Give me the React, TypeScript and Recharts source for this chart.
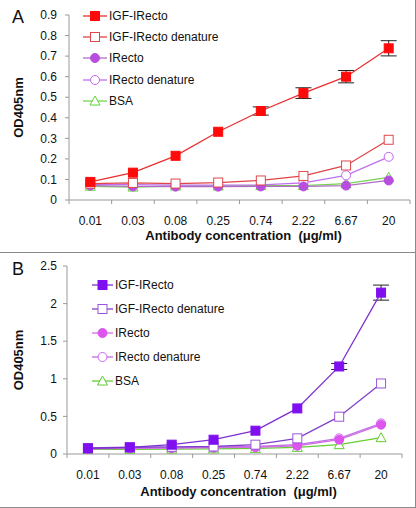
import React from "react";
import { LineChart, Line, XAxis, YAxis, ErrorBar, Legend } from "recharts";

const FONT = "'Liberation Sans', Arial, sans-serif";
const AXIS = "#9a9a9a";

const concentrations = ["0.01", "0.03", "0.08", "0.25", "0.74", "2.22", "6.67", "20"];
const seriesNames = ["IGF-IRecto", "IGF-IRecto denature", "IRecto", "IRecto denature", "BSA"];

// panel A
const aTicks = [0, 0.1, 0.2, 0.3, 0.4, 0.5, 0.6, 0.7, 0.8, 0.9];
const aIgf = [0.088, 0.133, 0.215, 0.332, 0.433, 0.52, 0.6, 0.738];
// null = error bar too small to show behind the marker
const aIgfErr = [null, null, null, null, 0.02, 0.026, 0.03, 0.037];
const aIgfDen = [0.08, 0.083, 0.08, 0.085, 0.095, 0.117, 0.168, 0.293];
const aIr = [0.07, 0.066, 0.065, 0.065, 0.066, 0.066, 0.07, 0.095];
const aIrDen = [0.076, 0.075, 0.072, 0.072, 0.074, 0.083, 0.12, 0.21];
const aBsa = [0.067, 0.063, 0.068, 0.068, 0.07, 0.07, 0.08, 0.11];

// panel B
const bTicks = [0, 0.5, 1, 1.5, 2, 2.5];
const bIgf = [0.075, 0.088, 0.124, 0.19, 0.31, 0.606, 1.164, 2.146];
const bIgfErr = [null, null, null, null, null, null, 0.04, 0.1];
const bIgfDen = [0.08, 0.09, 0.095, 0.1, 0.124, 0.208, 0.496, 0.938];
const bIr = [0.07, 0.075, 0.078, 0.085, 0.09, 0.11, 0.19, 0.39];
const bIrDen = [0.072, 0.078, 0.082, 0.09, 0.1, 0.124, 0.208, 0.407];
const bBsa = [0.062, 0.063, 0.065, 0.068, 0.075, 0.088, 0.124, 0.217];

type Shape = "square" | "circle" | "triangle";
interface SeriesStyle {
  key: string;
  shape: Shape;
  filled: boolean;
  marker: string;
  line: string;
}

const stylesA: SeriesStyle[] = [
  { key: "igf", shape: "square", filled: true, marker: "#ff0a0a", line: "#e8302f" },
  { key: "igfDen", shape: "square", filled: false, marker: "#e0474c", line: "#e04448" },
  { key: "ir", shape: "circle", filled: true, marker: "#b84ee0", line: "#b06cc4" },
  { key: "irDen", shape: "circle", filled: false, marker: "#c466f0", line: "#c070ee" },
  { key: "bsa", shape: "triangle", filled: false, marker: "#5fd62e", line: "#74d650" },
];

const stylesB: SeriesStyle[] = [
  { key: "igf", shape: "square", filled: true, marker: "#7f0ff0", line: "#7f2fd0" },
  { key: "igfDen", shape: "square", filled: false, marker: "#9b55d9", line: "#8040cc" },
  { key: "ir", shape: "circle", filled: true, marker: "#dd55ee", line: "#d070e0" },
  { key: "irDen", shape: "circle", filled: false, marker: "#cc66ee", line: "#c070e8" },
  { key: "bsa", shape: "triangle", filled: false, marker: "#62cc30", line: "#66cc33" },
];

function Marker({ cx, cy, s }: { cx: number; cy: number; s: SeriesStyle }) {
  const fill = s.filled ? s.marker : "#ffffff";
  if (s.shape === "square")
    return <rect x={cx - 4.5} y={cy - 4.5} width={9} height={9} fill={fill} stroke={s.marker} strokeWidth={1} />;
  if (s.shape === "circle")
    return <circle cx={cx} cy={cy} r={4.5} fill={fill} stroke={s.marker} strokeWidth={1} />;
  return (
    <polygon
      points={`${cx},${cy - 5} ${cx + 5},${cy + 4} ${cx - 5},${cy + 4}`}
      fill={fill}
      stroke={s.marker}
      strokeWidth={1}
    />
  );
}

function buildRows(
  igf: number[],
  igfErr: (number | null)[],
  igfDen: number[],
  ir: number[],
  irDen: number[],
  bsa: number[]
) {
  return concentrations.map((c, i) => ({
    conc: c,
    igf: igf[i],
    igfErr: igfErr[i] ?? undefined,
    igfDen: igfDen[i],
    ir: ir[i],
    irDen: irDen[i],
    bsa: bsa[i],
  }));
}

interface PanelProps {
  label: string;
  top: number;
  height: number;
  plotTop: number;
  xAxisHeight: number;
  yAxisWidth: number;
  right: number;
  yMax: number;
  ticks: number[];
  yTickMargin: number;
  rows: ReturnType<typeof buildRows>;
  styles: SeriesStyle[];
  legendTop: number;
  legendLeft: number;
  legendRow: number;
  legendLine: number;
}

function Panel(p: PanelProps) {
  const width = 416;
  const bandW = (width - p.yAxisWidth - p.right) / concentrations.length;
  const tickGap = 16;
  const last = concentrations.length - 1;

  const XTick = (props: any) => {
    const { x, y, payload, index } = props;
    const axisY = y - tickGap;
    return (
      <g>
        <line x1={x - bandW / 2} y1={axisY} x2={x - bandW / 2} y2={axisY + 4} stroke={AXIS} />
        {index === last && <line x1={x + bandW / 2} y1={axisY} x2={x + bandW / 2} y2={axisY + 4} stroke={AXIS} />}
        <text x={x} y={y} dy="0.71em" textAnchor="middle" fontSize={12} fontFamily={FONT} fill="#111">
          {payload.value}
        </text>
      </g>
    );
  };

  const renderLegend = () => (
    <div style={{ fontFamily: FONT, fontSize: 12, color: "#111" }}>
      {p.styles.map((s, i) => (
        <div key={s.key} style={{ height: p.legendRow, display: "flex", alignItems: "center", whiteSpace: "nowrap" }}>
          <svg width={p.legendLine} height={12} style={{ marginRight: 2 }}>
            <line x1={0} y1={6} x2={p.legendLine} y2={6} stroke={s.line} strokeWidth={1.3} />
            <Marker cx={p.legendLine / 2} cy={6} s={s} />
          </svg>
          <span>{seriesNames[i]}</span>
        </div>
      ))}
    </div>
  );

  const drawOrder = [...p.styles].reverse();

  return (
    <div style={{ position: "absolute", left: 0, top: p.top, width, height: p.height }}>
      <LineChart width={width} height={p.height} data={p.rows} margin={{ top: p.plotTop, right: p.right, left: 0, bottom: 0 }}>
        <XAxis
          dataKey="conc"
          height={p.xAxisHeight}
          padding={{ left: bandW / 2, right: bandW / 2 }}
          stroke={AXIS}
          tickLine={false}
          tickSize={0}
          tickMargin={tickGap}
          interval={0}
          tick={XTick}
          label={{
            value: "Antibody concentration\u00a0\u00a0(\u03bcg/ml)",
            position: "insideBottom",
            offset: 12,
            dx: 4,
            style: { fontFamily: FONT, fontSize: 13, fontWeight: "bold", fill: "#111" },
          }}
        />
        <YAxis
          width={p.yAxisWidth}
          domain={[0, p.yMax]}
          ticks={p.ticks}
          interval={0}
          stroke={AXIS}
          tickSize={4}
          tickMargin={p.yTickMargin}
          tick={{ fill: "#111", fontSize: 12, fontFamily: FONT }}
          label={{
            value: "OD405nm",
            angle: -90,
            position: "insideLeft",
            offset: 18,
            style: { fontFamily: FONT, fontSize: 13, fontWeight: "bold", fill: "#111", textAnchor: "middle" },
          }}
        />
        <Legend
          layout="vertical"
          align="center"
          verticalAlign="middle"
          content={renderLegend}
          wrapperStyle={{ position: "absolute", top: p.legendTop, left: p.legendLeft, width: "auto" }}
        />
        {/* error bars sit behind the markers */}
        <Line
          dataKey="igf"
          stroke="none"
          dot={false}
          activeDot={false}
          legendType="none"
          isAnimationActive={false}
        >
          <ErrorBar dataKey="igfErr" direction="y" width={8} stroke="#222" strokeWidth={1} />
        </Line>
        {drawOrder.map((s) => (
          <Line
            key={s.key}
            dataKey={s.key}
            stroke={s.line}
            strokeWidth={1.3}
            isAnimationActive={false}
            dot={(d: any) => <Marker key={`${s.key}-${d.index}`} cx={d.cx} cy={d.cy} s={s} />}
            activeDot={false}
          />
        ))}
      </LineChart>
      <div
        style={{
          position: "absolute",
          left: 12,
          top: 8,
          fontFamily: FONT,
          fontSize: 18,
          lineHeight: "18px",
          color: "#111",
        }}
      >
        {p.label}
      </div>
    </div>
  );
}

export default function App() {
  const rowsA = buildRows(aIgf, aIgfErr, aIgfDen, aIr, aIrDen, aBsa);
  const rowsB = buildRows(bIgf, bIgfErr, bIgfDen, bIr, bIrDen, bBsa);
  return (
    <div style={{ position: "absolute", left: 0, top: 0, width: 416, height: 508, background: "#fff", overflow: "hidden" }}>
      <Panel
        label="A"
        top={0}
        height={252}
        plotTop={15}
        xAxisHeight={52}
        yAxisWidth={69}
        right={6}
        yMax={0.9}
        ticks={aTicks}
        yTickMargin={8}
        rows={rowsA}
        styles={stylesA}
        legendTop={5}
        legendLeft={83}
        legendRow={21.3}
        legendLine={24}
      />
      <Panel
        label="B"
        top={252}
        height={256}
        plotTop={14}
        xAxisHeight={54}
        yAxisWidth={67}
        right={14}
        yMax={2.5}
        ticks={bTicks}
        yTickMargin={6}
        rows={rowsB}
        styles={stylesB}
        legendTop={21}
        legendLeft={92}
        legendRow={24}
        legendLine={21}
      />
      <div style={{ position: "absolute", left: 0, top: 252, width: 416, height: 1, background: "#8a8a8a" }} />
      <div style={{ position: "absolute", left: 415, top: 0, width: 1, height: 508, background: "#8a8a8a" }} />
      <div style={{ position: "absolute", left: 0, top: 507, width: 416, height: 1, background: "#8a8a8a" }} />
    </div>
  );
}
